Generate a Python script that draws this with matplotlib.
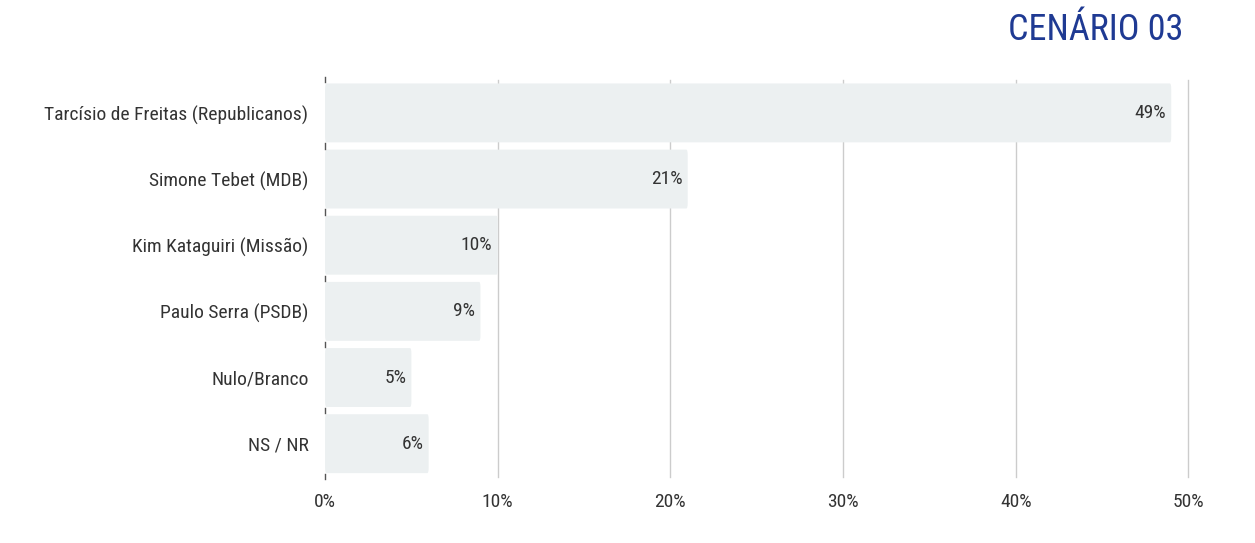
import matplotlib
matplotlib.use("Agg")
import matplotlib.pyplot as plt
from matplotlib.patches import FancyBboxPatch

categories = ["Tarcísio de Freitas (Republicanos)", "Simone Tebet (MDB)", "Kim Kataguiri (Missão)",
              "Paulo Serra (PSDB)", "Nulo/Branco", "NS / NR"]
values = [49, 21, 10, 9, 5, 6]
ticks = [0, 10, 20, 30, 40, 50]

plt.rcParams['font.family'] = ['Roboto Condensed', 'Roboto', 'DejaVu Sans']
fig = plt.figure(figsize=(12.55, 5.43), dpi=100)
ax = fig.add_axes([0.259, 0.122, 0.688, 0.731])
n = len(categories)
ypos = list(range(n))[::-1]
h = 0.89
for y, v in zip(ypos, values):
    ax.add_patch(FancyBboxPatch((0, y - h/2), v, h, boxstyle="round,pad=0,rounding_size=0.08",
                                mutation_aspect=1, fc="#ECF0F1", ec="none", zorder=2))
    ax.text(v - 0.3, y, f"{v}%", ha="right", va="center", fontsize=14, color="#333333", zorder=3)
ax.set_xlim(0, 50)
ax.set_ylim(-0.5, n - 0.5)
ax.set_xticks(ticks)
ax.set_xticklabels([f"{t}%" for t in ticks], fontsize=14, color="#333333")
ax.set_yticks(ypos)
ax.set_yticklabels(categories, fontsize=14, color="#333333")
ax.tick_params(axis="both", length=0, pad=12)
for t in ticks[1:]:
    ax.axvline(t, color="#CCCCCC", lw=1, zorder=1, clip_on=False)
for b in [i + 0.5 for i in range(-1, n)]:
    ax.plot([0, 0], [b - 0.04, b + 0.04], color="#555555", lw=1, zorder=4, clip_on=False)
for s in ax.spines.values():
    s.set_visible(False)
fig.text(0.943, 0.945, "CENÁRIO 03", ha="right", va="center", fontsize=26, color="#1F3A93")
fig.savefig("out.png", dpi=100)
